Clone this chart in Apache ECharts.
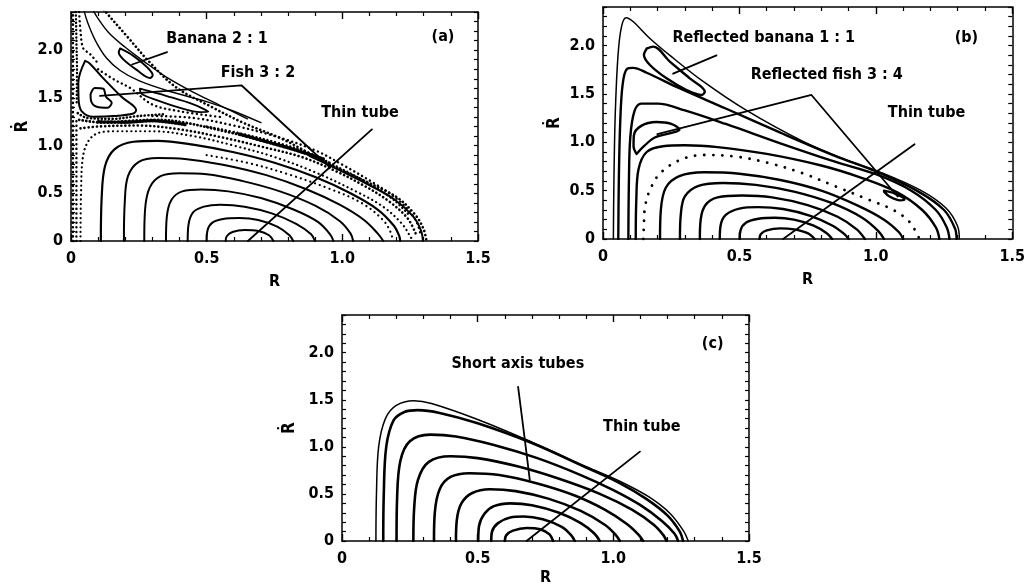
<!DOCTYPE html>
<html>
<head>
<meta charset="utf-8">
<script src="https://cdn.jsdelivr.net/npm/echarts@6/dist/echarts.min.js"></script>
<style>
html, body { margin: 0; padding: 0; background: #fff; }
#chart { width: 1028px; height: 587px; }
</style>
</head>
<body>
<div id="chart"></div>
<script>
var FONT = "'DejaVu Sans Condensed', 'Liberation Sans Narrow', 'DejaVu Sans', sans-serif";

// tick labels
var xLabels = { 0: '0', 5: '0.5', 10: '1.0', 15: '1.5' };
var yLabels = { 0: '0', 5: '0.5', 10: '1.0', 15: '1.5', 20: '2.0' };

// ---- panel (a) : curves, [R, Rdot] ----
var aEnvelope = [[0.11,2.46],[0.125,2.41],[0.205,2.15],[0.291,1.87],[0.389,1.607],[0.512,1.414],[0.635,1.239],[0.783,1.063],[0.955,0.80],[1.09,0.62],[1.2,0.46],[1.27,0.27],[1.3,0.12],[1.31,0]];
var aRim = [[0.88,0.89],[0.955,0.79],[1.09,0.6],[1.19,0.44],[1.26,0.26],[1.29,0.11],[1.297,0]];
var aThin1 = [[0.075,2.45],[0.1,2.33],[0.14,2.18],[0.2,2.03],[0.27,1.88],[0.35,1.72],[0.45,1.56],[0.55,1.42],[0.65,1.28]];
var aThin2 = [[0.045,2.45],[0.06,2.3],[0.09,2.1],[0.13,1.92],[0.18,1.79],[0.25,1.68],[0.35,1.58],[0.5,1.46],[0.6,1.36],[0.7,1.24]];
var aBanana = [[0.181,2.018],[0.23,1.94],[0.279,1.825],[0.301,1.737],[0.291,1.709],[0.242,1.793],[0.195,1.898],[0.176,1.975],[0.181,2.018]];
var aFishBig = [[0.052,1.888],[0.027,1.66],[0.028,1.484],[0.039,1.361],[0.082,1.302],[0.156,1.309],[0.23,1.337],[0.24,1.372],[0.187,1.509],[0.113,1.723],[0.068,1.863],[0.052,1.888]];
var aFishSmall = [[0.072,1.537],[0.088,1.604],[0.119,1.596],[0.129,1.512],[0.15,1.449],[0.134,1.396],[0.095,1.407],[0.074,1.467],[0.072,1.537]];
var aFishLong = [[0.254,1.596],[0.353,1.519],[0.451,1.432],[0.506,1.354],[0.475,1.351],[0.402,1.396],[0.316,1.477],[0.26,1.544],[0.254,1.596]];
var aDotted1 = [[0.035,0],[0.037,0.5],[0.045,0.9],[0.08,1.1],[0.15,1.15],[0.3,1.15],[0.45,1.1],[0.6,1.0],[0.75,0.88],[0.9,0.72],[1.05,0.52],[1.15,0.36],[1.22,0.18],[1.25,0.05],[1.26,0]];
var aDotted2 = [[0.5,0.9],[0.65,0.82],[0.8,0.7],[0.95,0.55],[1.07,0.4],[1.15,0.22],[1.18,0.08],[1.185,0]];
var aTube1 = [[0.11,0],[0.113,0.45],[0.125,0.78],[0.16,0.96],[0.23,1.04],[0.32,1.05],[0.45,1.01],[0.6,0.93],[0.75,0.82],[0.9,0.67],[1.03,0.5],[1.13,0.33],[1.19,0.16],[1.21,0.05],[1.213,0]];
var aTube2 = [[0.195,0],[0.198,0.4],[0.21,0.68],[0.25,0.83],[0.32,0.87],[0.42,0.86],[0.56,0.8],[0.72,0.69],[0.87,0.54],[0.99,0.38],[1.08,0.22],[1.13,0.08],[1.151,0]];
var aTube3 = [[0.27,0],[0.273,0.33],[0.29,0.56],[0.33,0.68],[0.4,0.71],[0.5,0.7],[0.63,0.63],[0.77,0.52],[0.9,0.37],[0.99,0.21],[1.03,0.08],[1.04,0]];
var aTube4 = [[0.35,0],[0.353,0.25],[0.37,0.43],[0.41,0.52],[0.48,0.54],[0.58,0.52],[0.7,0.45],[0.82,0.33],[0.91,0.2],[0.955,0.07],[0.967,0]];
var aTube5 = [[0.43,0],[0.433,0.17],[0.45,0.3],[0.49,0.36],[0.55,0.38],[0.64,0.36],[0.74,0.29],[0.83,0.18],[0.885,0.07],[0.899,0]];
var aTube6 = [[0.5,0],[0.503,0.11],[0.52,0.19],[0.56,0.23],[0.62,0.24],[0.69,0.22],[0.76,0.15],[0.805,0.06],[0.819,0]];
var aTube7 = [[0.57,0],[0.574,0.05],[0.595,0.095],[0.64,0.116],[0.69,0.105],[0.73,0.06],[0.746,0]];
// chaotic sea, drawn as stippled strokes
var aChaosLeft1 = [[0.007,0],[0.007,2.4]];
var aChaosLeft2 = [[0.02,0],[0.02,1.3]];
var aChaosTop = [[0.03,2.4],[0.035,2.2],[0.045,2.02],[0.07,1.96],[0.1,1.86]];
var aChaosTop2 = [[0.018,2.4],[0.02,2.1],[0.022,1.8],[0.021,1.45]];
var aChaosMid = [[0.1,1.8],[0.16,1.69],[0.22,1.6],[0.3,1.43],[0.4,1.36],[0.55,1.3]];
var aChaos1 = [[0.03,1.27],[0.12,1.24],[0.22,1.26],[0.32,1.27],[0.42,1.24],[0.55,1.16],[0.7,1.06],[0.85,0.93],[0.95,0.82]];
var aChaos2 = [[0.035,1.18],[0.1,1.2],[0.25,1.21],[0.4,1.17],[0.55,1.09],[0.7,0.99],[0.85,0.88],[0.97,0.74],[1.08,0.58],[1.17,0.42],[1.24,0.24],[1.27,0.08]];
var aChaos3 = [[0.3,1.31],[0.45,1.29],[0.6,1.21],[0.75,1.1],[0.9,0.95],[1.0,0.8],[1.12,0.6],[1.21,0.42],[1.27,0.22],[1.29,0.05]];
var aChaos4 = [[0.025,1.34],[0.06,1.29],[0.15,1.28],[0.25,1.31],[0.35,1.33]];
var aChaos5 = [[0.5,1.2],[0.62,1.13],[0.76,1.03],[0.88,0.92],[0.98,0.78],[1.1,0.6],[1.19,0.43],[1.25,0.26]];
var aBlob1 = [[0.1,1.25],[0.2,1.245],[0.3,1.26],[0.42,1.22]];
var aBlob2 = [[0.62,1.12],[0.72,1.04],[0.82,0.96],[0.93,0.86]];
var aLeadBanana = [[0.354,1.98],[0.225,1.85]];
var aLeadFish = [[0.107,1.52],[0.629,1.63],[0.955,0.77]];
var aLeadTube = [[1.109,1.17],[0.652,0]];

// ---- panel (b) ----
var bOuter = [[0.038,0],[0.04,0.6],[0.045,1.3],[0.055,1.9],[0.068,2.2],[0.085,2.29],[0.11,2.25],[0.17,2.08],[0.245,1.9],[0.367,1.63],[0.526,1.33],[0.733,1.01],[0.9,0.81],[1.0,0.71],[1.16,0.51],[1.257,0.32],[1.3,0.13],[1.306,0]];
var bTube2 = [[0.056,0],[0.058,0.6],[0.063,1.2],[0.072,1.6],[0.088,1.76],[0.11,1.77],[0.16,1.72],[0.28,1.56],[0.45,1.35],[0.65,1.1],[0.85,0.86],[1.0,0.7],[1.15,0.5],[1.25,0.3],[1.29,0.11],[1.296,0]];
var bTube3 = [[0.093,0],[0.095,0.6],[0.1,1.05],[0.115,1.32],[0.14,1.4],[0.2,1.4],[0.3,1.33],[0.45,1.19],[0.65,0.99],[0.85,0.8],[1.0,0.67],[1.13,0.5],[1.22,0.3],[1.26,0.12],[1.27,0]];
var bTube4 = [[0.12,0],[0.122,0.4],[0.13,0.72],[0.16,0.9],[0.22,0.96],[0.3,0.97],[0.42,0.95],[0.6,0.88],[0.8,0.76],[0.95,0.63],[1.08,0.48],[1.17,0.3],[1.22,0.12],[1.233,0]];
var bDotted = [[0.148,0],[0.15,0.15],[0.154,0.334],[0.172,0.507],[0.209,0.679],[0.282,0.817],[0.367,0.869],[0.489,0.852],[0.611,0.783],[0.733,0.679],[0.855,0.541],[0.977,0.403],[1.062,0.303],[1.123,0.179],[1.16,0]];
var bTube5 = [[0.209,0],[0.212,0.3],[0.23,0.53],[0.28,0.65],[0.37,0.69],[0.5,0.675],[0.65,0.61],[0.8,0.5],[0.93,0.35],[1.03,0.2],[1.085,0.07],[1.1,0]];
var bTube6 = [[0.282,0],[0.285,0.25],[0.3,0.44],[0.35,0.55],[0.44,0.58],[0.56,0.56],[0.7,0.49],[0.84,0.37],[0.95,0.22],[1.01,0.08],[1.03,0]];
var bTube7 = [[0.355,0],[0.358,0.2],[0.375,0.35],[0.42,0.43],[0.51,0.45],[0.62,0.43],[0.75,0.35],[0.86,0.23],[0.93,0.1],[0.96,0]];
var bTube8 = [[0.428,0],[0.431,0.14],[0.45,0.25],[0.5,0.315],[0.57,0.33],[0.66,0.31],[0.76,0.24],[0.84,0.14],[0.885,0.05],[0.9,0]];
var bTube9 = [[0.501,0],[0.504,0.09],[0.525,0.17],[0.57,0.21],[0.63,0.22],[0.7,0.2],[0.77,0.14],[0.82,0.06],[0.84,0]];
var bTube10 = [[0.574,0],[0.578,0.05],[0.6,0.09],[0.65,0.11],[0.7,0.1],[0.75,0.06],[0.776,0]];
var bBanana = [[0.16,1.97],[0.184,1.99],[0.245,1.834],[0.318,1.662],[0.373,1.524],[0.361,1.49],[0.306,1.541],[0.233,1.662],[0.172,1.8],[0.15,1.903],[0.16,1.97]];
var bFish = [[0.123,0.88],[0.112,0.96],[0.113,1.07],[0.14,1.17],[0.196,1.21],[0.25,1.19],[0.28,1.13],[0.255,1.1],[0.19,1.05],[0.15,0.96],[0.123,0.88]];
var bFishSmall = [[1.03,0.5],[1.07,0.47],[1.105,0.41],[1.09,0.4],[1.05,0.44],[1.03,0.49]];
var bLeadBanana = [[0.416,1.9],[0.257,1.71]];
var bLeadFish = [[0.199,1.086],[0.764,1.49],[1.08,0.44]];
var bLeadTube = [[1.142,0.98],[0.66,0]];

// ---- panel (c) ----
var cTube1 = [[0.125,0],[0.127,0.5],[0.135,1.0],[0.16,1.3],[0.2,1.44],[0.265,1.49],[0.33,1.46],[0.5,1.29],[0.7,1.05],[0.9,0.79],[1.02,0.64],[1.13,0.47],[1.21,0.29],[1.258,0.11],[1.276,0]];
var cTube2 = [[0.152,0],[0.154,0.5],[0.163,1.0],[0.19,1.28],[0.23,1.37],[0.28,1.39],[0.36,1.36],[0.5,1.25],[0.7,1.04],[0.9,0.78],[1.02,0.62],[1.12,0.45],[1.2,0.27],[1.245,0.1],[1.257,0]];
var cTube3 = [[0.201,0],[0.203,0.45],[0.215,0.85],[0.25,1.06],[0.325,1.13],[0.42,1.11],[0.56,1.02],[0.72,0.88],[0.88,0.7],[1.0,0.54],[1.1,0.38],[1.18,0.21],[1.225,0.08],[1.239,0]];
var cTube4 = [[0.263,0],[0.266,0.35],[0.28,0.65],[0.32,0.84],[0.4,0.9],[0.5,0.88],[0.65,0.79],[0.8,0.66],[0.95,0.5],[1.07,0.33],[1.15,0.17],[1.185,0.06],[1.196,0]];
var cTube5 = [[0.339,0],[0.342,0.3],[0.36,0.55],[0.4,0.68],[0.47,0.72],[0.58,0.7],[0.72,0.61],[0.86,0.48],[0.97,0.33],[1.05,0.18],[1.095,0.06],[1.11,0]];
var cTube6 = [[0.42,0],[0.423,0.22],[0.44,0.4],[0.48,0.51],[0.545,0.55],[0.64,0.53],[0.76,0.45],[0.88,0.32],[0.97,0.17],[1.01,0.06],[1.024,0]];
var cTube7 = [[0.502,0],[0.505,0.16],[0.525,0.29],[0.56,0.37],[0.62,0.4],[0.7,0.38],[0.8,0.3],[0.88,0.19],[0.93,0.08],[0.95,0]];
var cTube8 = [[0.55,0],[0.553,0.1],[0.575,0.19],[0.62,0.25],[0.67,0.26],[0.74,0.23],[0.81,0.15],[0.845,0.06],[0.858,0]];
var cTube9 = [[0.6,0],[0.605,0.06],[0.63,0.11],[0.68,0.138],[0.73,0.125],[0.765,0.07],[0.778,0]];
var cLeadShort = [[0.649,1.637],[0.674,1.072],[0.692,0.649]];
var cLeadTube = [[1.098,0.949],[0.68,0]];

// annotations [grid, R, Rdot, text]
var notes = [
    [0, 0.538, 2.116, 'Banana 2 : 1'],
    [0, 0.689, 1.758, 'Fish 3 : 2'],
    [0, 1.065, 1.347, 'Thin tube'],
    [0, 1.371, 2.137, '(a)'],
    [1, 0.589, 2.079, 'Reflected banana 1 : 1'],
    [1, 0.82, 1.696, 'Reflected fish 3 : 4'],
    [1, 1.186, 1.303, 'Thin tube'],
    [1, 1.332, 2.079, '(b)'],
    [2, 0.648, 1.884, 'Short axis tubes'],
    [2, 1.105, 1.217, 'Thin tube'],
    [2, 1.366, 2.095, '(c)']
];

var chart = echarts.init(document.getElementById('chart'));

var DOTS = [0.1, 4.5];
var SPARSE = [0.1, 9];

function curve(grid, pts, width, dash, smooth) {
    return {
        type: 'line',
        xAxisIndex: grid * 2,
        yAxisIndex: grid * 2,
        data: pts,
        smooth: smooth === undefined ? 0.35 : smooth,
        symbol: 'none',
        silent: true,
        animation: false,
        lineStyle: { color: '#000', width: width, type: dash || 'solid', cap: 'round', join: 'round' }
    };
}

function xAxis(grid, top, gap) {
    return {
        type: 'value', gridIndex: grid, min: 0, max: 1.5, interval: 0.5,
        position: top ? 'top' : 'bottom',
        name: top ? '' : 'R', nameLocation: 'middle', nameGap: gap,
        nameTextStyle: { color: '#000', fontFamily: FONT, fontWeight: 'bold', fontSize: 16 },
        axisLine: { onZero: false, lineStyle: { color: '#000', width: 1.5 } },
        axisTick: { inside: true, length: 7, lineStyle: { color: '#000', width: 1.4 } },
        minorTick: { show: true, splitNumber: 5, length: 4, lineStyle: { color: '#000', width: 1.2 } },
        axisLabel: {
            show: !top, margin: 10, color: '#000', fontFamily: FONT, fontWeight: 'bold', fontSize: 16,
            formatter: function (v) { return xLabels[Math.round(v * 10)] || ''; }
        },
        splitLine: { show: false }
    };
}

function yAxis(grid, right, gap) {
    return {
        type: 'value', gridIndex: grid, min: 0, max: 2.4, interval: 0.1,
        position: right ? 'right' : 'left',
        name: right ? '' : '\u1E58', nameLocation: 'middle', nameGap: gap, nameRotate: 90,
        nameTextStyle: { color: '#000', fontFamily: FONT, fontWeight: 'bold', fontSize: 17 },
        axisLine: { onZero: false, lineStyle: { color: '#000', width: 1.5 } },
        axisTick: { inside: true, length: 4, lineStyle: { color: '#000', width: 1.2 } },
        axisLabel: {
            show: !right, margin: 8, color: '#000', fontFamily: FONT, fontWeight: 'bold', fontSize: 16,
            formatter: function (v) { return yLabels[Math.round(v * 10)] || ''; }
        },
        splitLine: { show: false }
    };
}

var series = [
    // (a)
    curve(0, aChaosLeft1, 2.6, DOTS), curve(0, aChaosLeft2, 2.4, DOTS),
    curve(0, aChaosTop, 2.4, DOTS), curve(0, aChaosTop2, 2.4, [0.1, 3.5]), curve(0, aChaosMid, 2.4, DOTS),
    curve(0, aChaos1, 2.8, [0.1, 3.5]), curve(0, aChaos2, 2.6, [0.1, 4]), curve(0, aChaos3, 2.4, DOTS),
    curve(0, aChaos4, 2.6, [0.1, 3.5]), curve(0, aChaos5, 2.4, [0.1, 3.8]),
    curve(0, aBlob1, 3.4, [1, 2.2]), curve(0, aBlob2, 3.4, [1.5, 2]),
    curve(0, aEnvelope, 2.6, [0.1, 4]), curve(0, aRim, 2),
    curve(0, aThin1, 1.4), curve(0, aThin2, 1.4),
    curve(0, aBanana, 2), curve(0, aFishBig, 2), curve(0, aFishSmall, 2), curve(0, aFishLong, 1.8),
    curve(0, aDotted1, 2.2, DOTS), curve(0, aDotted2, 2.2, [0.1, 5]),
    curve(0, aTube1, 2.2), curve(0, aTube2, 2), curve(0, aTube3, 2), curve(0, aTube4, 2),
    curve(0, aTube5, 2), curve(0, aTube6, 2), curve(0, aTube7, 2),
    curve(0, aLeadBanana, 1.8, null, false), curve(0, aLeadFish, 1.8, null, false), curve(0, aLeadTube, 1.8, null, false),
    // (b)
    curve(1, bOuter, 1.5), curve(1, bTube2, 2.4), curve(1, bTube3, 2.4), curve(1, bTube4, 2.4),
    curve(1, bDotted, 2.8, SPARSE),
    curve(1, bTube5, 2.4), curve(1, bTube6, 2.4), curve(1, bTube7, 2.4), curve(1, bTube8, 2.4),
    curve(1, bTube9, 2.4), curve(1, bTube10, 2.4),
    curve(1, bBanana, 2.4), curve(1, bFish, 2.4), curve(1, bFishSmall, 2.4),
    curve(1, bLeadBanana, 1.8, null, false), curve(1, bLeadFish, 1.8, null, false), curve(1, bLeadTube, 1.8, null, false),
    // (c)
    curve(2, cTube1, 1.5), curve(2, cTube2, 2.6), curve(2, cTube3, 2.6), curve(2, cTube4, 2.6),
    curve(2, cTube5, 2.6), curve(2, cTube6, 2.6), curve(2, cTube7, 2.6), curve(2, cTube8, 2.6), curve(2, cTube9, 2.6),
    curve(2, cLeadShort, 1.8, null, 0.3), curve(2, cLeadTube, 1.8, null, false)
];

chart.setOption({
    backgroundColor: '#fff',
    animation: false,
    grid: [
        { left: 71, top: 12, width: 407, height: 229 },
        { left: 603, top: 7, width: 410, height: 232 },
        { left: 342, top: 315, width: 407, height: 228 }
    ],
    xAxis: [xAxis(0, false, 33), xAxis(0, true), xAxis(1, false, 33), xAxis(1, true), xAxis(2, false, 29), xAxis(2, true)],
    yAxis: [yAxis(0, false, 40), yAxis(0, true), yAxis(1, false, 40), yAxis(1, true), yAxis(2, false, 44), yAxis(2, true)],
    series: series
});

chart.setOption({
    graphic: notes.map(function (n) {
        var p = chart.convertToPixel({ xAxisIndex: n[0] * 2, yAxisIndex: n[0] * 2 }, [n[1], n[2]]);
        return {
            type: 'text', x: p[0], y: p[1], z: 10,
            style: { text: n[3], fill: '#000', font: 'bold 16px ' + FONT, align: 'center', verticalAlign: 'middle' }
        };
    })
});
</script>
</body>
</html>
